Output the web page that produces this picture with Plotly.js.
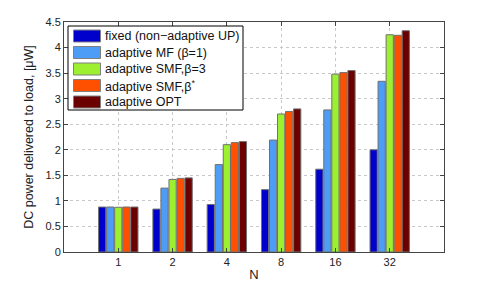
<!DOCTYPE html>
<html><head><meta charset="utf-8">
<script src="https://cdn.plot.ly/plotly-3.0.1.min.js"></script>
<style>body{margin:0;background:#fff}#c{width:491px;height:282px}</style>
</head><body><div id="c"></div>
<script>
const categories = ['1','2','4','8','16','32'];
const seriesNames = ['fixed (non\u2212adaptive UP)','adaptive MF (\u03B2=1)','adaptive SMF,\u03B2=3','adaptive SMF,\u03B2<sup>*</sup>','adaptive OPT'];
const fixedUP = [0.88, 0.84, 0.93, 1.22, 1.62, 2.00];
const adaptiveMF = [0.88, 1.25, 1.71, 2.19, 2.78, 3.34];
const adaptiveSMF3 = [0.875, 1.42, 2.10, 2.70, 3.48, 4.25];
const adaptiveSMFstar = [0.88, 1.44, 2.14, 2.75, 3.51, 4.24];
const adaptiveOPT = [0.88, 1.45, 2.16, 2.80, 3.55, 4.33];
const colors = ['#0000cc','#4d9cf5','#9cf030','#ff5000','#6b0000'];
const yTicks = [0,0.5,1,1.5,2,2.5,3,3.5,4,4.5];
const yTickText = ['0','0.5','1','1.5','2','2.5','3','3.5','4','4.5'];

const series = [fixedUP, adaptiveMF, adaptiveSMF3, adaptiveSMFstar, adaptiveOPT];
const traces = series.map((v,i)=>({
  type:'bar', x:categories, y:v, name:seriesNames[i], showlegend:false,
  marker:{color:colors[i], line:{color:'#707070', width:1}}
}));

// custom legend (big swatches as in the reference), in paper coordinates
const L = 64, T = 22, W = 380, H = 230;
const px = x => (x - L) / W;
const py = y => (T + H - y) / H;
const shapes = [{type:'rect', xref:'paper', yref:'paper', x0:px(68), x1:px(243), y0:py(110), y1:py(26),
  line:{color:'#000', width:1}, fillcolor:'#fff', layer:'above'}];
const annotations = [];
seriesNames.forEach((n,i)=>{
  const cy = 36 + i*16.5;
  shapes.push({type:'rect', xref:'paper', yref:'paper', x0:px(73.5), x1:px(100.5), y0:py(cy+6), y1:py(cy-6),
    fillcolor:colors[i], line:{color:'#808080', width:1}, layer:'above'});
  annotations.push({xref:'paper', yref:'paper', x:px(102.5), y:py(cy), xanchor:'left', yanchor:'middle',
    text:n, showarrow:false, font:{family:'Liberation Sans, Arial, sans-serif', size:12.5, color:'#111'}});
});

const font = {family:'Liberation Sans, Arial, sans-serif', size:11, color:'#222'};
const layout = {
  width:491, height:282,
  margin:{l:64, r:47, t:22, b:30},
  paper_bgcolor:'#fff', plot_bgcolor:'#fff',
  font:font,
  barmode:'group', bargap:0.26, bargroupgap:0.1,
  showlegend:false,
  shapes:shapes, annotations:annotations,
  xaxis:{type:'category', range:[-1,6], showline:true, linecolor:'#444', linewidth:1,
    mirror:'ticks', ticks:'inside', ticklen:4, tickcolor:'#444',
    showgrid:true, gridcolor:'#c8c8c8', griddash:'dot', gridwidth:1,
    tickfont:{size:11, color:'#222'},
    title:{text:'N', font:{size:13, color:'#222'}, standoff:3}},
  yaxis:{range:[0,4.5], tickvals:yTicks, ticktext:yTickText, showline:true, linecolor:'#444', linewidth:1,
    mirror:'ticks', ticks:'inside', ticklen:4, tickcolor:'#444',
    showgrid:true, gridcolor:'#c8c8c8', griddash:'dot', gridwidth:1, zeroline:false,
    tickfont:{size:11, color:'#222'},
    title:{text:'DC power delivered to load, [\u03BCW]', font:{size:12.5, color:'#222'}, standoff:9}}
};
Plotly.newPlot('c', traces, layout, {displayModeBar:false, staticPlot:true});
</script></body></html>
